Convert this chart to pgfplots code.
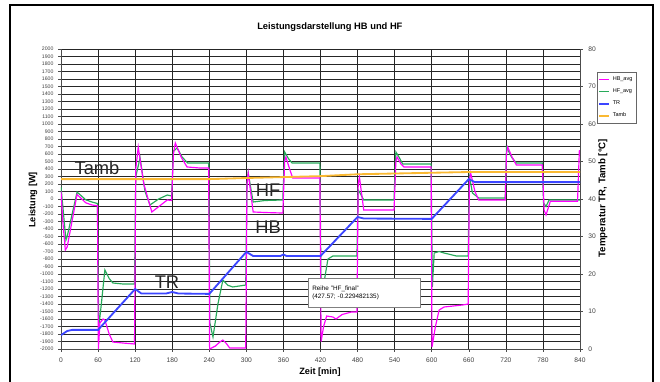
\documentclass[border=0pt]{standalone}
\usepackage{pgfplots}
\pgfplotsset{compat=1.18}
\usepackage{fontspec}
\setmainfont{Liberation Sans}
\definecolor{hbcol}{RGB}{255,0,255}
\definecolor{hfcol}{RGB}{40,170,90}
\definecolor{trcol}{RGB}{60,70,255}
\definecolor{tacol}{RGB}{250,185,50}
\begin{document}
\begin{tikzpicture}
\path[use as bounding box] (0,0) rectangle (396pt,228.6pt);
\draw[line width=1.2pt] (6pt,-2pt) rectangle (391.8pt,225.6pt);
\begin{axis}[
  at={(36.6pt,19.2pt)}, anchor=south west,
  scale only axis, width=311.4pt, height=180pt,
  xmin=0, xmax=840, ymin=-2000, ymax=2000,
  xtick={0,60,...,840}, ytick={-2000,-1900,...,2000},
  /pgf/number format/1000 sep={},
  /pgf/number format/assume math mode=true,
  grid=major, major grid style={black!85, line width=0.42pt},
  axis y line*=left, axis x line*=bottom,
  axis line style={black!70, line width=0.45pt, -},
  tick style={black!70, line width=0.3pt}, tick align=outside, major tick length=1.5pt,
  xticklabel style={font=\fontsize{4}{4}\selectfont, text=black!75},
  yticklabel style={font=\fontsize{3.1}{3.1}\selectfont, text=black!75, xshift=0.5pt},
  title={Leistungsdarstellung HB und HF},
  title style={font=\bfseries\fontsize{5.6}{6}\selectfont, at={(axis description cs:0.518,1.04)}, anchor=center},
  xlabel={Zeit [min]},
  xlabel style={font=\bfseries\fontsize{5.5}{6}\selectfont, at={(axis description cs:0.499,-0.077)}, anchor=center},
  ylabel={Leistung [W]},
  ylabel style={font=\bfseries\fontsize{5.5}{6}\selectfont, at={(axis description cs:-0.054,0.497)}, anchor=center, rotate=0},
]
\addplot[hfcol, line width=0.7pt] coordinates {
(0,160) (3,-100) (8,-547) (10,-500) (26,93) (40,-10) (50,-40) (59,-60) (61,-1707) (64,-1500) (71,-947) (78,-1060) (84,-1120) (100,-1133) (119,-1133)
(121,300) (128,547) (136,100) (144,-80) (158,0) (172,53) (179,40)
(182,640) (188,680) (196,560) (205,480) (239,480)
(241,-1653) (246,-1840) (254,-1400) (262,-1080) (270,-1150) (278,-1173) (299,-1147)
(301,200) (303,347) (311,-40) (330,-20) (359,-13)
(362,627) (368,540) (374,480) (419,480)
(421,-1300) (426,-1100) (432,-800) (440,-760) (479,-760)
(481,120) (484,80) (490,-13) (539,-13)
(542,627) (547,560) (553,467) (599,467)
(601,-1173) (604,-720) (612,-700) (620,-720) (640,-760) (659,-760)
(661,300) (666,80) (676,13) (719,13)
(721,693) (729,560) (737,480) (779,480)
(781,-53) (785,-100) (790,-13) (840,-13)
};
\addplot[hbcol, line width=0.7pt] coordinates {
(0,100) (3,-300) (7,-680) (10,-640) (26,60) (40,-50) (50,-80) (59,-90) (60.5,-2000) (63,-1653) (68,-1600) (71,-1613) (78,-1800) (84,-1907) (100,-1920) (119,-1933)
(121,400) (125,693) (134,200) (147,-173) (160,-90) (172,-13) (179,-20)
(182,600) (185,747) (195,550) (204,427) (225,413) (239,413)
(240.5,-2000) (250,-1960) (257,-1907) (262,-1880) (268,-1930) (273,-1987) (299,-1987)
(301,200) (303,347) (311,-173) (330,-180) (359,-187)
(362,500) (364,560) (370,400) (375,280) (419,280)
(421,-1900) (425,-1700) (430,-1560) (440,-1573) (445,-1600) (455,-1540) (470,-1507) (479,-1507)
(481,200) (483,293) (490,-147) (539,-147)
(542,500) (544,560) (550,470) (555,427) (599,427)
(600.5,-1973) (606,-1700) (612,-1480) (620,-1440) (650,-1413) (659,-1400)
(661,250) (663,347) (670,100) (676,-13) (719,-13)
(721,600) (723,693) (730,560) (737,453) (779,453)
(782,-150) (785,-213) (792,-30) (836,-30) (839,653)
};
\end{axis}
\begin{axis}[
  at={(36.6pt,19.2pt)}, anchor=south west,
  scale only axis, width=311.4pt, height=180pt,
  xmin=0, xmax=840, ymin=0, ymax=80,
  axis x line=none, axis y line*=right,
  ytick={0,10,...,80},
  /pgf/number format/assume math mode=true,
  axis line style={black!70, line width=0.45pt, -},
  tick style={black!70, line width=0.3pt}, tick align=outside, major tick length=1.5pt,
  yticklabel style={font=\fontsize{4}{4}\selectfont, text=black!75},
  ylabel={Temperatur TR, Tamb [°C]},
  ylabel style={font=\bfseries\fontsize{5.8}{6}\selectfont, at={(axis description cs:1.044,0.503)}, anchor=center, rotate=0},
  legend style={at={(1.033,0.923)}, anchor=north west, draw=black!60, font=\fontsize{3.3}{3.5}\selectfont, inner sep=0.6pt, row sep=-0.6pt, legend cell align=left},
  legend image code/.code={\draw[#1] (0pt,0pt) -- (5.5pt,0pt);},
]
\addlegendimage{hbcol, line width=0.6pt}
\addlegendentry{HB\_avg}
\addlegendimage{hfcol, line width=0.6pt}
\addlegendentry{HF\_avg}
\addplot[trcol, line width=1.1pt] coordinates {
(0,3.7) (10,4.8) (18,5.1) (60,5.1) (120,16) (130,14.8) (170,14.8) (180,15.2) (190,14.8) (240,14.7)
(300,25.9) (311,24.8) (355,24.8) (360,25.2) (365,24.8) (420,24.8) (480,35.2) (490,34.8) (600,34.7)
(660,45.3) (670,44.5) (840,44.5)
};
\addlegendentry{TR}
\addplot[tacol, line width=1.1pt] coordinates {
(0,45.3) (240,45.3) (300,45.6) (420,46.1) (480,46.6) (660,47.2) (840,47.2)
};
\addlegendentry{Tamb}
\end{axis}
\node[font=\fontsize{11}{11}\selectfont, text=black!85] at (58.2pt,127.8pt) {Tamb};
\node[font=\fontsize{11}{11}\selectfont, text=black!85] at (160.8pt,114.6pt) {HF};
\node[font=\fontsize{11}{11}\selectfont, text=black!85] at (160.8pt,92.4pt) {HB};
\node[font=\fontsize{11}{11}\selectfont, text=black!85] at (100.2pt,59.4pt) {TR};
\node[draw=black!50, fill=white, font=\fontsize{3.8}{4.6}\selectfont, align=left, minimum width=67pt, minimum height=17.4pt, text width=62pt, inner sep=1.5pt] at (218.4pt,52.8pt) {Reihe "HF\_final"\\(427.57; -0.229482135)};
\end{tikzpicture}
\end{document}
